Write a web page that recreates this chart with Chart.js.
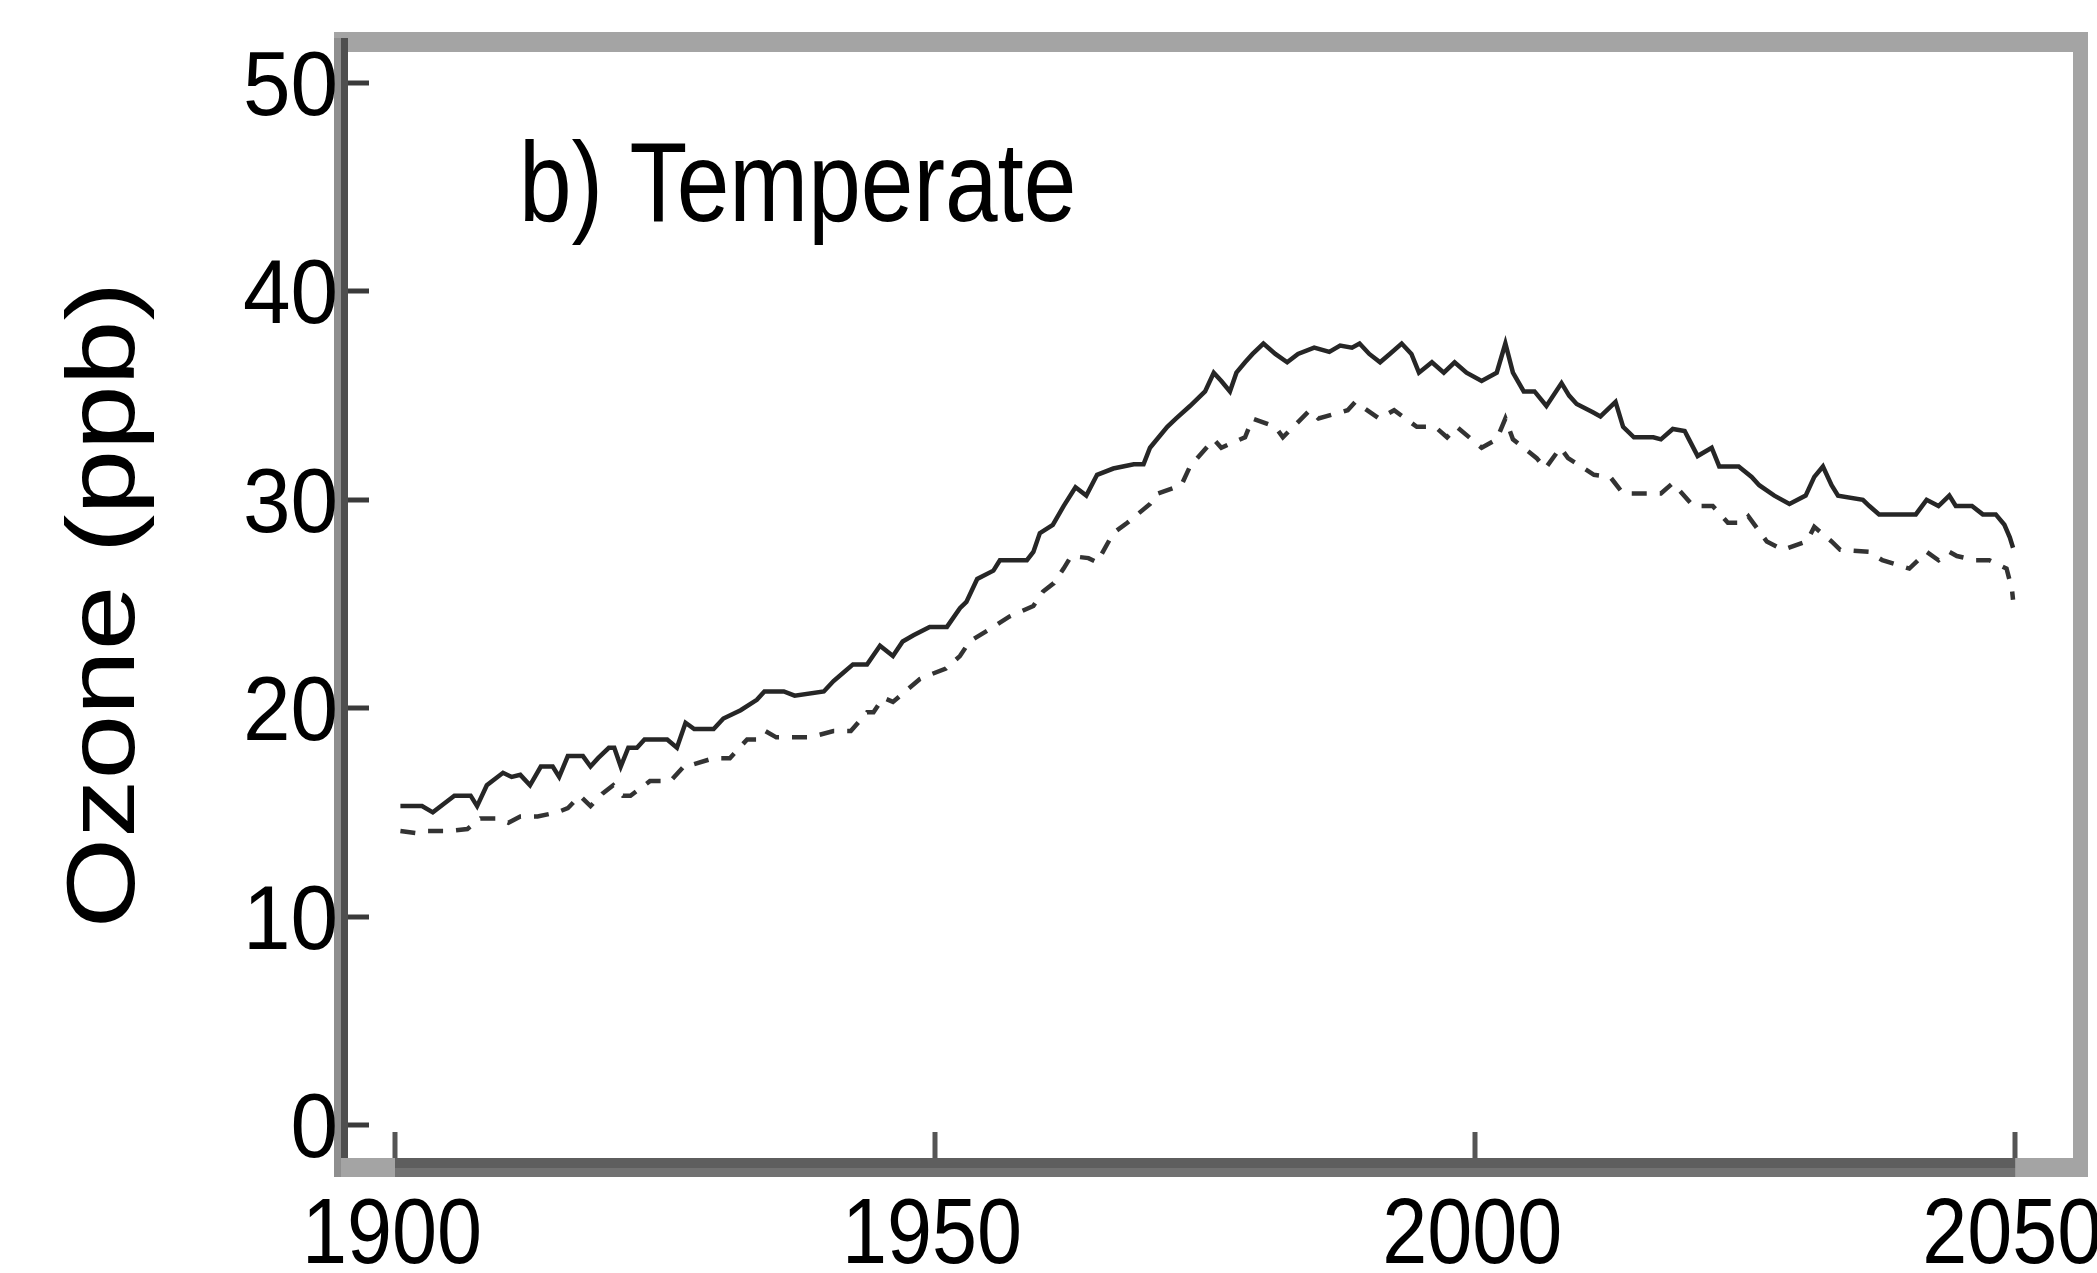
<!DOCTYPE html>
<html>
<head>
<meta charset="utf-8">
<script src="https://cdn.jsdelivr.net/npm/chart.js@4.4.1/dist/chart.umd.min.js"></script>
<style>
html,body{margin:0;padding:0;background:#fff;}
#wrap{width:2097px;height:1273px;position:relative;}
</style>
</head>
<body>
<div id="wrap"><canvas id="c" width="2097" height="1273"></canvas></div>
<script>
// ---- data ----
const solidYears = [1900.5,1902.5,1903.5,1904.5,1905.5,1907.0,1907.6,1908.5,1910.0,1910.8,1911.6,1912.5,1913.5,1914.6,1915.2,1916.0,1917.4,1918.1,1918.8,1919.8,1920.3,1920.9,1921.6,1922.4,1923.1,1925.2,1926.1,1926.9,1927.7,1929.5,1930.4,1932.0,1933.5,1934.2,1936.0,1937.0,1939.7,1940.6,1941.5,1942.4,1943.7,1944.9,1946.1,1947.0,1948.0,1949.5,1951.1,1952.3,1952.9,1953.9,1955.4,1956.0,1958.5,1959.1,1959.7,1960.9,1961.9,1963.0,1964.0,1965.0,1966.5,1968.4,1969.3,1969.9,1970.7,1971.5,1972.3,1973.6,1975.0,1975.8,1976.5,1977.3,1977.9,1978.7,1979.4,1980.4,1981.5,1982.6,1983.6,1985.1,1986.5,1987.5,1988.6,1989.3,1990.2,1991.2,1992.1,1993.2,1994.1,1994.8,1996.0,1997.1,1998.1,1999.2,2000.6,2002.0,2002.8,2003.5,2004.5,2005.5,2006.6,2008.0,2008.7,2009.4,2010.9,2011.6,2013.0,2013.7,2014.7,2016.5,2017.2,2018.3,2019.4,2019.8,2020.6,2021.9,2022.6,2024.4,2025.6,2026.3,2027.7,2029.1,2030.6,2031.4,2032.2,2033.0,2033.6,2035.9,2036.5,2037.4,2040.8,2041.8,2042.9,2043.9,2044.5,2046.0,2047.0,2048.2,2049.0,2049.5,2049.8];
const solidValues = [15.3,15.3,15.0,15.4,15.8,15.8,15.3,16.3,16.9,16.7,16.8,16.3,17.2,17.2,16.7,17.7,17.7,17.2,17.6,18.1,18.1,17.2,18.1,18.1,18.5,18.5,18.1,19.3,19.0,19.0,19.5,19.9,20.4,20.8,20.8,20.6,20.8,21.3,21.7,22.1,22.1,23.0,22.5,23.2,23.5,23.9,23.9,24.8,25.1,26.2,26.6,27.1,27.1,27.5,28.4,28.8,29.7,30.6,30.2,31.2,31.5,31.7,31.7,32.5,33.0,33.5,33.9,34.5,35.2,36.1,35.7,35.2,36.1,36.6,37.0,37.5,37.0,36.6,37.0,37.3,37.1,37.4,37.3,37.5,37.0,36.6,37.0,37.5,37.0,36.1,36.6,36.1,36.6,36.1,35.7,36.1,37.5,36.1,35.2,35.2,34.5,35.6,35.0,34.6,34.2,34.0,34.7,33.5,33.0,33.0,32.9,33.4,33.3,32.9,32.1,32.5,31.6,31.6,31.1,30.7,30.2,29.8,30.2,31.1,31.6,30.7,30.2,30.0,29.7,29.3,29.3,30.0,29.7,30.2,29.7,29.7,29.3,29.3,28.8,28.2,27.7];

const dashedYears = [1900.5,1902.0,1903.0,1904.8,1906.7,1907.9,1909.5,1910.5,1911.6,1913.2,1915.0,1916.0,1917.1,1918.1,1919.2,1920.2,1921.1,1921.8,1923.6,1925.5,1926.9,1927.6,1929.5,1931.0,1932.6,1933.5,1934.3,1935.3,1938.4,1940.6,1942.2,1943.7,1944.3,1945.2,1946.1,1948.6,1949.5,1951.0,1952.3,1953.2,1955.4,1956.9,1959.1,1960.0,1961.0,1961.9,1962.6,1964.2,1965.0,1966.5,1967.8,1969.9,1970.6,1972.8,1973.6,1975.8,1976.5,1978.7,1979.4,1981.5,1982.2,1984.7,1985.5,1988.2,1988.9,1991.1,1992.5,1994.6,1996.3,1997.4,1998.3,2000.6,2002.0,2002.8,2003.5,2005.7,2006.5,2007.9,2008.6,2011.0,2012.5,2013.7,2017.2,2018.3,2020.2,2022.0,2023.4,2024.8,2025.3,2027.0,2028.5,2030.7,2031.4,2033.0,2033.8,2036.5,2037.7,2040.2,2041.0,2041.8,2042.9,2043.9,2044.6,2046.3,2047.6,2049.2,2049.7,2049.8];
const dashedValues = [14.1,14.0,14.1,14.1,14.2,14.7,14.7,14.5,14.8,14.8,15.0,15.2,15.8,15.3,15.9,16.3,15.8,15.8,16.5,16.5,17.3,17.3,17.6,17.6,18.5,18.5,18.9,18.6,18.6,18.9,18.9,19.8,19.8,20.5,20.3,21.4,21.6,21.9,22.5,23.2,23.9,24.4,24.9,25.6,26.0,26.7,27.3,27.2,27.0,28.4,28.9,29.8,30.3,30.7,31.6,32.9,32.5,33.0,33.9,33.5,33.0,34.3,33.9,34.3,34.7,33.9,34.3,33.5,33.5,33.0,33.5,32.5,32.9,33.9,32.9,32.0,31.5,32.5,32.0,31.2,31.1,30.3,30.3,30.8,29.7,29.7,28.9,28.9,29.2,28.0,27.6,28.0,28.7,28.0,27.6,27.5,27.1,26.7,27.1,27.5,27.1,27.5,27.3,27.1,27.1,26.7,25.7,25.2];

const xTickValues = [1900, 1950, 2000, 2050];
const xTickLabels = ['1900', '1950', '2000', '2050'];
const yTickValues = [0, 10, 20, 30, 40, 50];
const yTickLabels = ['0', '10', '20', '30', '40', '50'];
const panelTitle = 'b) Temperate';
const yAxisTitle = 'Ozone (ppb)';

// ---- drawing ----
const FONT = "'Liberation Sans', Arial, Helvetica, sans-serif";

const decorPlugin = {
  id: 'decor',
  afterDraw(chart) {
    const c = chart.ctx, a = chart.chartArea;
    const xs = chart.scales.x, ys = chart.scales.y;
    c.save();
    // inward tick marks
    c.strokeStyle = '#555';
    c.lineWidth = 5;
    xTickValues.forEach(v => {
      const px = Math.round(xs.getPixelForValue(v));
      c.beginPath(); c.moveTo(px, a.bottom - 8); c.lineTo(px, a.bottom - 35); c.stroke();
    });
    c.strokeStyle = '#3a3a3a';
    yTickValues.forEach(v => {
      const py = Math.round(ys.getPixelForValue(v));
      c.beginPath(); c.moveTo(a.left + 6, py); c.lineTo(a.left + 28, py); c.stroke();
    });
    // frame
    const L = a.left - 7, R = a.right + 8, T = a.top - 10, B = a.bottom + 10;
    c.fillStyle = '#a4a4a4';
    c.fillRect(L, T, R - L, 20);                // top
    c.fillRect(a.right - 7, T, 15, B - T);      // right
    c.fillRect(L, a.bottom - 9, R - L, 19);     // bottom base
    const x0 = xs.getPixelForValue(1900), x1 = xs.getPixelForValue(2050);
    c.fillStyle = '#5e5e5e';
    c.fillRect(x0, a.bottom - 9, x1 - x0, 10);
    c.fillStyle = '#727272';
    c.fillRect(x0, a.bottom + 1, x1 - x0, 9);
    c.fillStyle = '#8e8e8e';
    c.fillRect(L, a.top - 4, 7, B - (a.top - 4));
    c.fillStyle = '#4e4e4e';
    c.fillRect(a.left, a.top - 4, 7, a.bottom - 9 - (a.top - 4));

    c.fillStyle = '#000';
    c.textBaseline = 'alphabetic';

    // x tick labels (slightly condensed like the reference)
    c.font = '93px ' + FONT;
    c.textAlign = 'center';
    xTickValues.forEach((v, i) => {
      const px = xs.getPixelForValue(v);
      c.save();
      c.translate(px - 3, 1263);
      c.scale(0.87, 1);
      c.fillText(xTickLabels[i], 0, 0);
      c.restore();
    });

    // y tick labels
    c.font = '90px ' + FONT;
    c.textAlign = 'right';
    yTickValues.forEach((v, i) => {
      const py = ys.getPixelForValue(v);
      c.save();
      c.translate(a.left - 3, py + 32);
      c.scale(0.95, 1);
      c.fillText(yTickLabels[i], 0, 0);
      c.restore();
    });

    // panel title
    c.font = '114px ' + FONT;
    c.textAlign = 'left';
    c.save();
    c.translate(519, 221);
    c.scale(0.83, 1);
    c.fillText(panelTitle, 0, 0);
    c.restore();

    // y axis title
    c.save();
    c.translate(134, 605);
    c.rotate(-Math.PI / 2);
    c.scale(1.02, 0.845);
    c.textAlign = 'center';
    c.fillText(yAxisTitle, 0, 0);
    c.restore();
    c.restore();
  }
};

new Chart(document.getElementById('c'), {
  type: 'line',
  data: {
    datasets: [
      {
        label: 'solid',
        data: solidYears.map((x, i) => ({ x: x, y: solidValues[i] })),
        borderColor: '#262626',
        borderWidth: 4.5,
        pointRadius: 0,
        fill: false,
        tension: 0
      },
      {
        label: 'dashed',
        data: dashedYears.map((x, i) => ({ x: x, y: dashedValues[i] })),
        borderColor: '#333333',
        borderWidth: 4.5,
        borderDash: [15, 13],
        pointRadius: 0,
        fill: false,
        tension: 0
      }
    ]
  },
  options: {
    responsive: false,
    animation: false,
    devicePixelRatio: 1,
    layout: { padding: { top: 42, right: 17, left: 0, bottom: 0 } },
    plugins: { legend: { display: false }, tooltip: { enabled: false }, title: { display: false } },
    scales: {
      x: {
        type: 'linear',
        min: 1895,
        max: 2056,
        grid: { display: false, drawTicks: false },
        border: { display: false },
        afterBuildTicks: s => { s.ticks = xTickValues.map(v => ({ value: v })); },
        ticks: { display: false },
        afterFit: s => { s.height = 106; s.paddingLeft = 0; s.paddingRight = 0; }
      },
      y: {
        type: 'linear',
        min: -2.02,
        max: 51.97,
        grid: { display: false, drawTicks: false },
        border: { display: false },
        afterBuildTicks: s => { s.ticks = yTickValues.map(v => ({ value: v })); },
        ticks: { display: false },
        afterFit: s => { s.width = 341; s.paddingTop = 0; s.paddingBottom = 0; }
      }
    }
  },
  plugins: [decorPlugin]
});
</script>
</body>
</html>
